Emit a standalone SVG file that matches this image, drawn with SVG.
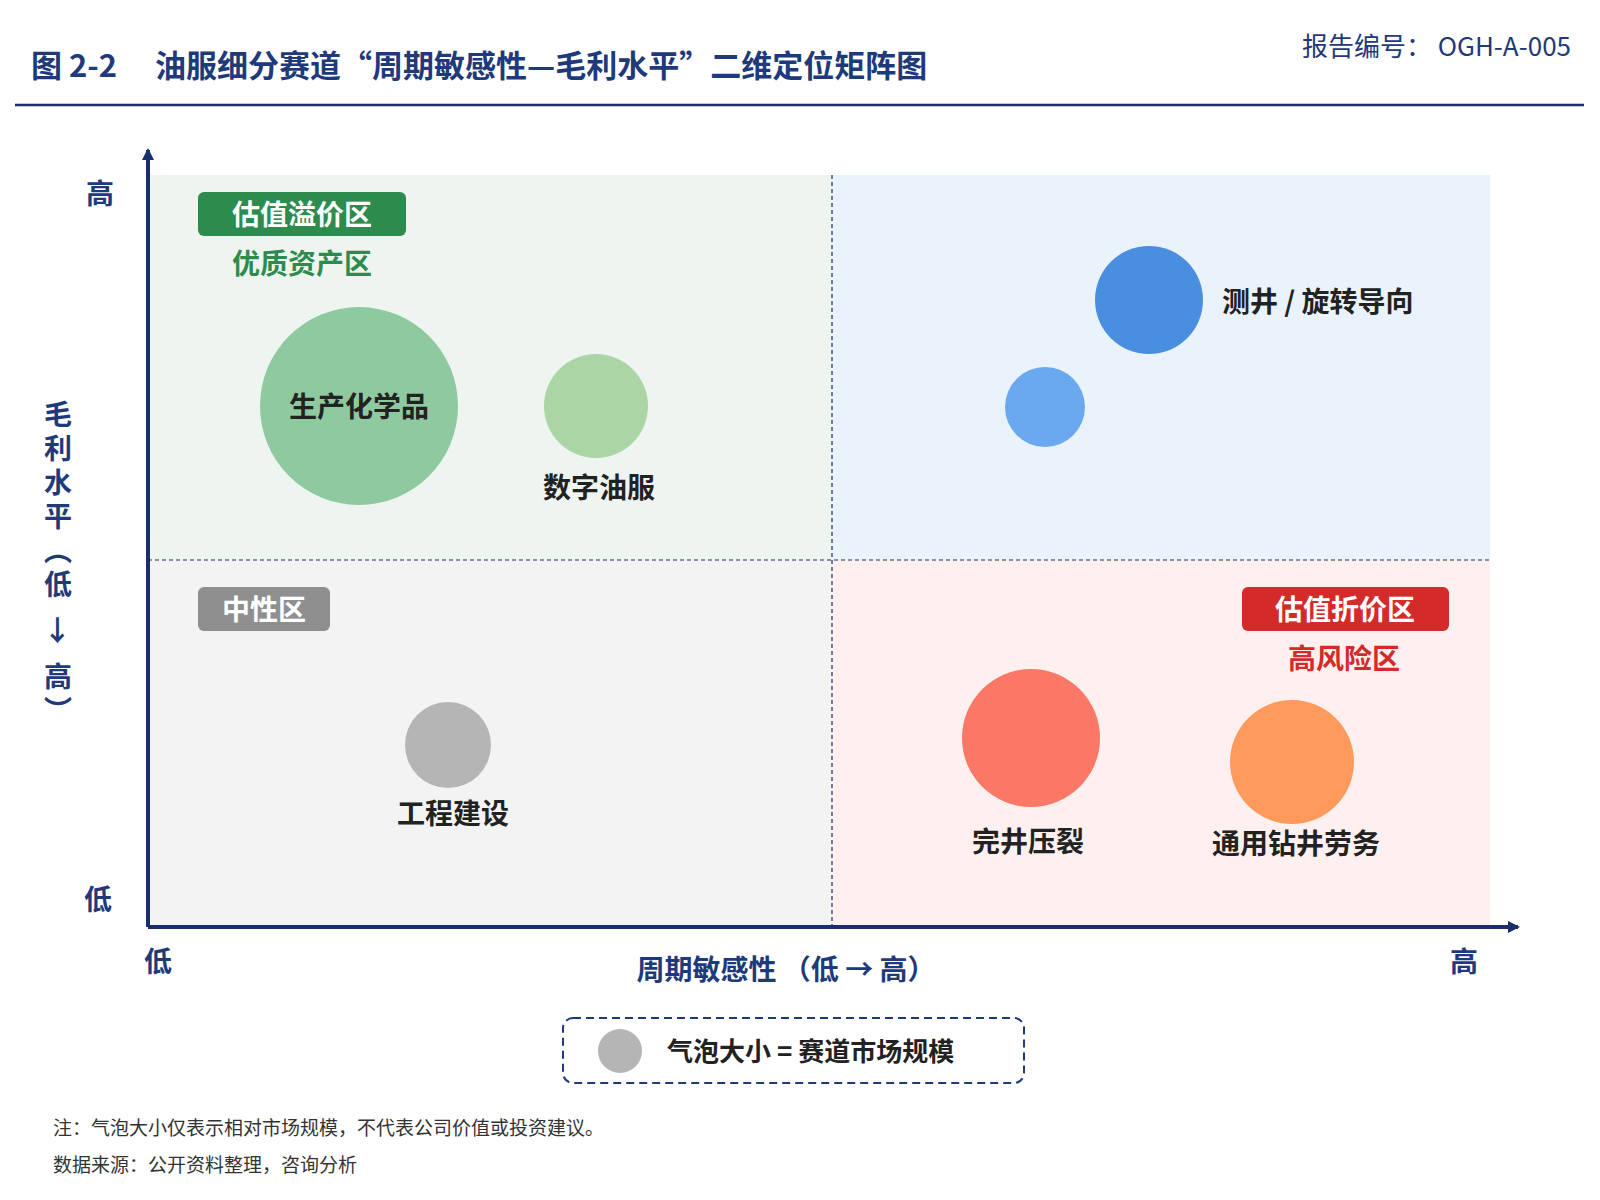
<svg xmlns="http://www.w3.org/2000/svg" width="1600" height="1200" viewBox="0 0 1600 1200">
<style>
text{font-family:"Noto Sans CJK SC","Noto Sans",sans-serif}
.t{fill:#1f3a7a;font-weight:bold}
.lbl{font-size:28px;font-weight:bold;fill:#222;text-anchor:middle}
.badge{font-size:28px;font-weight:bold;fill:#fff;text-anchor:middle}
.ax{font-size:28px;fill:#1f3a7a;font-weight:bold;text-anchor:middle}
.note{font-size:19px;fill:#333}
</style>
<defs>
<marker id="ah" markerWidth="12" markerHeight="12" refX="10" refY="6" orient="auto" markerUnits="userSpaceOnUse"><path d="M0,0 L12,6 L0,12 Z" fill="#1a2e6b"/></marker>
</defs>
<rect width="1600" height="1200" fill="#fff"/>
<text x="31" y="77" class="t" font-size="31">图 2-2　 油服细分赛道“周期敏感性—毛利水平”二维定位矩阵图</text>
<text x="1571" y="56" font-size="26" fill="#1f3a7a" text-anchor="end">报告编号：  OGH-A-005</text>
<line x1="15" y1="105" x2="1584" y2="105" stroke="#1a2e6b" stroke-width="2.5"/>
<g id="quadrants">
<rect x="148" y="175" width="684" height="385" fill="#eef5f0"/>
<rect x="832" y="175" width="658" height="385" fill="#eaf2fc"/>
<rect x="148" y="560" width="684" height="367" fill="#f3f3f3"/>
<rect x="832" y="560" width="658" height="367" fill="#fdf0ee"/>
<line x1="832" y1="175" x2="832" y2="927" stroke="#1a2e6b" stroke-dasharray="4,3" stroke-width="1.2"/>
<line x1="148" y1="560" x2="1490" y2="560" stroke="#1a2e6b" stroke-dasharray="4,3" stroke-width="1.2"/>
</g>
<g id="axes">
<line x1="148" y1="927" x2="148" y2="150" stroke="#1a2e6b" stroke-width="4" marker-end="url(#ah)"/>
<line x1="148" y1="927" x2="1518" y2="927" stroke="#1a2e6b" stroke-width="4" marker-end="url(#ah)"/>
<text x="100" y="204" class="ax" fill="#1f3a7a">高</text>
<text x="98" y="910" class="ax">低</text>
<text x="158" y="972" class="ax">低</text>
<text x="1464" y="972" class="ax">高</text>
<text x="786" y="980" class="ax">周期敏感性 （低 → 高）</text>
<text x="58" y="400" class="ax" style="writing-mode:vertical-rl;text-anchor:start" letter-spacing="6">毛利水平（低 → 高）</text>
</g>
<g id="badge-premium">
<rect x="198" y="192" width="208" height="44" rx="6" fill="#2e8b4e"/>
<text x="302" y="225" class="badge">估值溢价区</text>
<text x="302" y="274" font-size="28" font-weight="bold" fill="#2e8b4e" text-anchor="middle">优质资产区</text>
</g>
<g id="badge-neutral">
<rect x="198" y="587" width="132" height="44" rx="6" fill="#8f8f8f"/>
<text x="264" y="620" class="badge">中性区</text>
</g>
<g id="badge-discount">
<rect x="1242" y="587" width="207" height="44" rx="6" fill="#d42a2a"/>
<text x="1345" y="620" class="badge">估值折价区</text>
<text x="1344" y="669" font-size="28" font-weight="bold" fill="#d42a2a" text-anchor="middle">高风险区</text>
</g>
<g id="n-chem"><circle cx="359" cy="406" r="99" fill="#8fc9a0"/><text x="359" y="417" class="lbl">生产化学品</text></g>
<g id="n-digital"><circle cx="596" cy="406" r="52" fill="#acd5a5"/><text x="599" y="498" class="lbl">数字油服</text></g>
<g id="n-logging"><circle cx="1149" cy="300" r="54" fill="#4a8ee0"/><text x="1222" y="312" class="lbl" text-anchor="start" style="text-anchor:start">测井 / 旋转导向</text></g>
<g id="n-blue2"><circle cx="1045" cy="407" r="40" fill="#6aa9ef"/></g>
<g id="n-eng"><circle cx="448" cy="745" r="43" fill="#b5b5b5"/><text x="453" y="824" class="lbl">工程建设</text></g>
<g id="n-frac"><circle cx="1031" cy="738" r="69" fill="#fb7866"/><text x="1028" y="852" class="lbl">完井压裂</text></g>
<g id="n-drill"><circle cx="1292" cy="762" r="62" fill="#fd9a5c"/><text x="1296" y="854" class="lbl">通用钻井劳务</text></g>
<g id="legend">
<rect x="563" y="1018" width="461" height="65" rx="10" fill="#fff" stroke="#1f3a7a" stroke-width="2" stroke-dasharray="8,5"/>
<circle cx="620" cy="1051" r="22" fill="#b5b5b5"/>
<text x="667" y="1061" font-size="26" font-weight="bold" fill="#222">气泡大小 = 赛道市场规模</text>
</g>
<text x="53" y="1135" class="note">注：气泡大小仅表示相对市场规模，不代表公司价值或投资建议。</text>
<text x="53" y="1172" class="note">数据来源：公开资料整理，咨询分析</text>
</svg>
